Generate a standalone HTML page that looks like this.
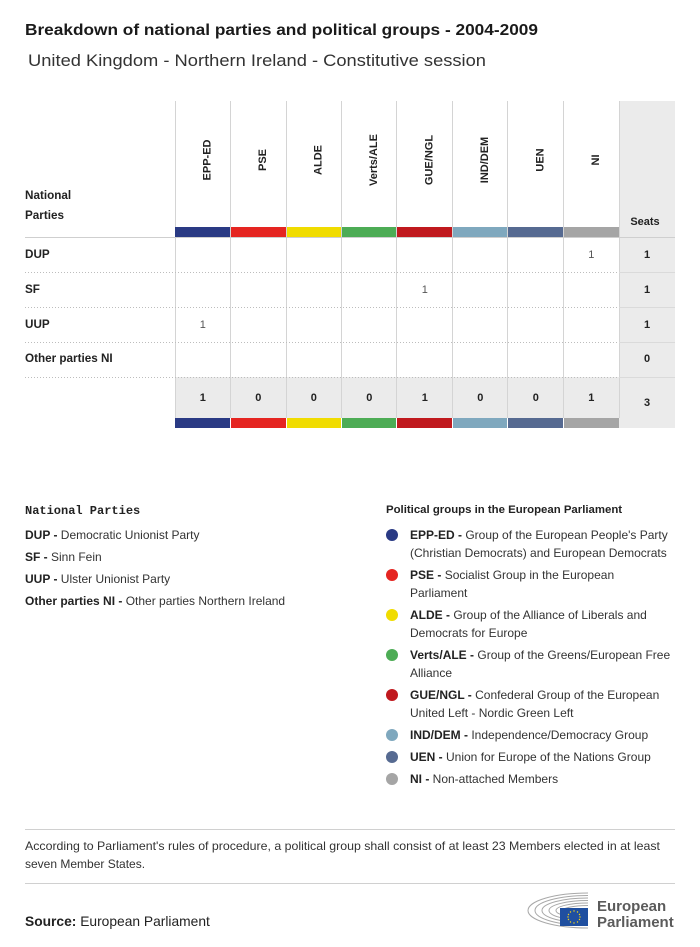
<!DOCTYPE html>
<html><head><meta charset="utf-8">
<style>
html,body{margin:0;padding:0;background:#fff;}
svg{display:block;font-family:"Liberation Sans",sans-serif;}
</style></head>
<body>
<svg width="700" height="947" viewBox="0 0 700 947" xmlns="http://www.w3.org/2000/svg">
<rect width="700" height="947" fill="#fff"/>
<!-- Titles -->
<text x="25" y="35" font-size="16" font-weight="bold" fill="#1a1a1a" textLength="513" lengthAdjust="spacingAndGlyphs">Breakdown of national parties and political groups - 2004-2009</text>
<text x="28" y="66" font-size="17" fill="#333" textLength="458" lengthAdjust="spacingAndGlyphs">United Kingdom - Northern Ireland - Constitutive session</text>

<!-- Seats column background -->
<rect x="619" y="101" width="56" height="327" fill="#ebebeb"/>
<!-- Totals row background -->
<rect x="175" y="377" width="444" height="41" fill="#ebebeb"/>

<!-- vertical lines -->
<g stroke="#d4d4d4" stroke-width="1">
<line x1="175.5" y1="101" x2="175.5" y2="418"/>
<line x1="230.5" y1="101" x2="230.5" y2="418"/>
<line x1="286.5" y1="101" x2="286.5" y2="418"/>
<line x1="341.5" y1="101" x2="341.5" y2="418"/>
<line x1="396.5" y1="101" x2="396.5" y2="418"/>
<line x1="452.5" y1="101" x2="452.5" y2="418"/>
<line x1="507.5" y1="101" x2="507.5" y2="418"/>
<line x1="563.5" y1="101" x2="563.5" y2="418"/>
<line x1="619.5" y1="101" x2="619.5" y2="418"/>
</g>

<!-- horizontal lines -->
<line x1="25" y1="237.5" x2="675" y2="237.5" stroke="#cfcfcf" stroke-width="1"/>
<g stroke="#bdbdbd" stroke-width="1" stroke-dasharray="1,2">
<line x1="25" y1="272.5" x2="619" y2="272.5"/>
<line x1="25" y1="307.5" x2="619" y2="307.5"/>
<line x1="25" y1="342.5" x2="619" y2="342.5"/>
<line x1="25" y1="377.5" x2="619" y2="377.5"/>
</g>
<g stroke="#dadada" stroke-width="1">
<line x1="619" y1="272.5" x2="675" y2="272.5"/>
<line x1="619" y1="307.5" x2="675" y2="307.5"/>
<line x1="619" y1="342.5" x2="675" y2="342.5"/>
<line x1="619" y1="377.5" x2="675" y2="377.5"/>
</g>

<!-- color bars top -->
<g>
<rect x="175" y="227" width="55" height="10" fill="#2a3a84"/>
<rect x="231" y="227" width="55" height="10" fill="#e52521"/>
<rect x="287" y="227" width="54" height="10" fill="#f0dc00"/>
<rect x="342" y="227" width="54" height="10" fill="#4dac55"/>
<rect x="397" y="227" width="55" height="10" fill="#c0191e"/>
<rect x="453" y="227" width="54" height="10" fill="#7fa8be"/>
<rect x="508" y="227" width="55" height="10" fill="#566a91"/>
<rect x="564" y="227" width="55" height="10" fill="#a5a5a5"/>
</g>
<!-- color bars bottom -->
<g>
<rect x="175" y="418" width="55" height="10" fill="#2a3a84"/>
<rect x="231" y="418" width="55" height="10" fill="#e52521"/>
<rect x="287" y="418" width="54" height="10" fill="#f0dc00"/>
<rect x="342" y="418" width="54" height="10" fill="#4dac55"/>
<rect x="397" y="418" width="55" height="10" fill="#c0191e"/>
<rect x="453" y="418" width="54" height="10" fill="#7fa8be"/>
<rect x="508" y="418" width="55" height="10" fill="#566a91"/>
<rect x="564" y="418" width="55" height="10" fill="#a5a5a5"/>
</g>

<!-- header labels -->
<g font-size="11" font-weight="bold" fill="#222" text-anchor="middle">
<text transform="translate(210.5,160) rotate(-90)">EPP-ED</text>
<text transform="translate(266,160) rotate(-90)">PSE</text>
<text transform="translate(321.5,160) rotate(-90)">ALDE</text>
<text transform="translate(377,160) rotate(-90)">Verts/ALE</text>
<text transform="translate(432.5,160) rotate(-90)">GUE/NGL</text>
<text transform="translate(488,160) rotate(-90)">IND/DEM</text>
<text transform="translate(543.5,160) rotate(-90)">UEN</text>
<text transform="translate(599,160) rotate(-90)">NI</text>
</g>

<g font-size="11.7" font-weight="bold" fill="#222">
<text x="25" y="199">National</text>
<text x="25" y="219">Parties</text>
<text x="645" y="225" text-anchor="middle" font-size="11">Seats</text>
<text x="25" y="258">DUP</text>
<text x="25" y="293">SF</text>
<text x="25" y="328">UUP</text>
<text x="25" y="362">Other parties NI</text>
</g>

<!-- cell values -->
<g font-size="11" fill="#555" text-anchor="middle">
<text x="591.25" y="258">1</text>
<text x="424.75" y="293">1</text>
<text x="202.75" y="328">1</text>
</g>
<g font-size="11" font-weight="bold" fill="#222" text-anchor="middle">
<text x="647" y="258">1</text>
<text x="647" y="293">1</text>
<text x="647" y="328">1</text>
<text x="647" y="362">0</text>
<text x="202.75" y="401">1</text>
<text x="258.25" y="401">0</text>
<text x="313.75" y="401">0</text>
<text x="369.25" y="401">0</text>
<text x="424.75" y="401">1</text>
<text x="480.25" y="401">0</text>
<text x="535.75" y="401">0</text>
<text x="591.25" y="401">1</text>
<text x="647" y="406">3</text>
</g>

<!-- Left legend -->
<text x="25" y="514" font-family="Liberation Mono, monospace" font-size="12" font-weight="bold" fill="#222">National Parties</text>
<g font-size="12" fill="#333">
<text x="25" y="539"><tspan font-weight="bold" fill="#222">DUP - </tspan>Democratic Unionist Party</text>
<text x="25" y="561"><tspan font-weight="bold" fill="#222">SF - </tspan>Sinn Fein</text>
<text x="25" y="583"><tspan font-weight="bold" fill="#222">UUP - </tspan>Ulster Unionist Party</text>
<text x="25" y="605"><tspan font-weight="bold" fill="#222">Other parties NI - </tspan>Other parties Northern Ireland</text>
</g>

<!-- Right legend -->
<text x="386" y="513" font-size="11.4" font-weight="bold" fill="#222">Political groups in the European Parliament</text>
<g>
<circle cx="392" cy="535" r="6" fill="#2a3a84"/>
<circle cx="392" cy="575" r="6" fill="#e52521"/>
<circle cx="392" cy="615" r="6" fill="#f0dc00"/>
<circle cx="392" cy="655" r="6" fill="#4dac55"/>
<circle cx="392" cy="695" r="6" fill="#c0191e"/>
<circle cx="392" cy="735" r="6" fill="#7fa8be"/>
<circle cx="392" cy="757" r="6" fill="#566a91"/>
<circle cx="392" cy="779" r="6" fill="#a5a5a5"/>
</g>
<g font-size="12" fill="#333">
<text x="410" y="539"><tspan font-weight="bold" fill="#222">EPP-ED - </tspan>Group of the European People's Party</text>
<text x="410" y="557">(Christian Democrats) and European Democrats</text>
<text x="410" y="579"><tspan font-weight="bold" fill="#222">PSE - </tspan>Socialist Group in the European</text>
<text x="410" y="597">Parliament</text>
<text x="410" y="619"><tspan font-weight="bold" fill="#222">ALDE - </tspan>Group of the Alliance of Liberals and</text>
<text x="410" y="637">Democrats for Europe</text>
<text x="410" y="659"><tspan font-weight="bold" fill="#222">Verts/ALE - </tspan>Group of the Greens/European Free</text>
<text x="410" y="677">Alliance</text>
<text x="410" y="699"><tspan font-weight="bold" fill="#222">GUE/NGL - </tspan>Confederal Group of the European</text>
<text x="410" y="717">United Left - Nordic Green Left</text>
<text x="410" y="739"><tspan font-weight="bold" fill="#222">IND/DEM - </tspan>Independence/Democracy Group</text>
<text x="410" y="761"><tspan font-weight="bold" fill="#222">UEN - </tspan>Union for Europe of the Nations Group</text>
<text x="410" y="783"><tspan font-weight="bold" fill="#222">NI - </tspan>Non-attached Members</text>
</g>

<!-- Footer -->
<line x1="25" y1="829.5" x2="675" y2="829.5" stroke="#d0d0d0" stroke-width="1"/>
<g font-size="12" fill="#333">
<text x="25" y="850" textLength="635" lengthAdjust="spacingAndGlyphs">According to Parliament's rules of procedure, a political group shall consist of at least 23 Members elected in at least</text>
<text x="25" y="868">seven Member States.</text>
</g>
<line x1="25" y1="883.5" x2="675" y2="883.5" stroke="#d0d0d0" stroke-width="1"/>
<text x="25" y="926" font-size="13.8" fill="#222"><tspan font-weight="bold">Source:</tspan> European Parliament</text>

<!-- Logo -->
<g fill="none" stroke="#a8a8a8" stroke-width="1">
<path d="M588,893 A60,17.5 0 0 0 588,928"/>
<path d="M588,895.5 A53,15 0 0 0 588,925.5"/>
<path d="M588,898 A46,12.5 0 0 0 588,923"/>
<path d="M588,900.5 A39,10 0 0 0 588,920.5"/>
<path d="M588,903 A32,7.5 0 0 0 588,918"/>
<path d="M588,905.5 A25,5 0 0 0 588,915.5"/>
</g>
<rect x="560" y="908" width="28" height="18" fill="#1f4fa0"/>
<g fill="#f3d417">
<circle cx="574" cy="911" r="0.7"/>
<circle cx="577.5" cy="912" r="0.7"/>
<circle cx="579.5" cy="914.5" r="0.7"/>
<circle cx="580" cy="917" r="0.7"/>
<circle cx="579.5" cy="919.5" r="0.7"/>
<circle cx="577.5" cy="922" r="0.7"/>
<circle cx="574" cy="923" r="0.7"/>
<circle cx="570.5" cy="922" r="0.7"/>
<circle cx="568.5" cy="919.5" r="0.7"/>
<circle cx="568" cy="917" r="0.7"/>
<circle cx="568.5" cy="914.5" r="0.7"/>
<circle cx="570.5" cy="912" r="0.7"/>
</g>
<g font-size="15" font-weight="bold" fill="#5b5b5b">
<text x="597" y="911">European</text>
<text x="597" y="927">Parliament</text>
</g>
</svg>
</body></html>
